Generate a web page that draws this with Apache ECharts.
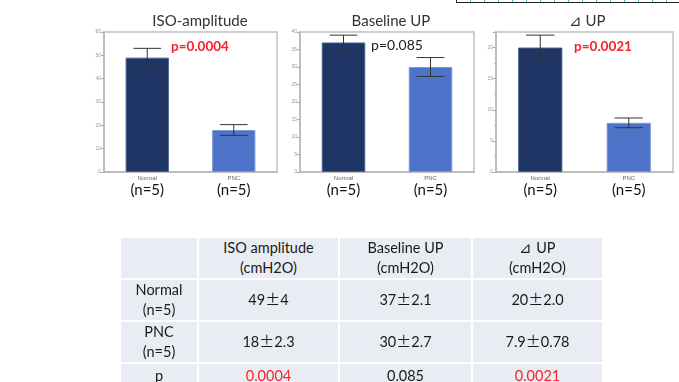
<!DOCTYPE html>
<html>
<head>
<meta charset="utf-8">
<script src="https://cdn.jsdelivr.net/npm/echarts@6/dist/echarts.min.js"></script>
<style>
  html, body { margin: 0; padding: 0; background: #fff; }
  #wrap { position: relative; width: 679px; height: 382px; overflow: hidden; }
  #chart { position: absolute; left: 0; top: 0; width: 679px; height: 382px; }
  #ruler {
    position: absolute; left: 456px; top: -10px; width: 240px; height: 11px;
    border: 1px solid #222;
    background: repeating-linear-gradient(90deg, transparent 0 13px, #35c6d6 13px 14px);
  }
  #tbl {
    position: absolute; left: 119px; top: 236px;
    border-collapse: collapse; table-layout: fixed;
    font-family: Lato, "Noto Sans", sans-serif; font-size: 14.5px; color: #1a1a1a;
  }
  #tbl td {
    background: #e9ecf3; border: 2px solid #fff; text-align: center;
    padding: 0; line-height: 20px; overflow: hidden;
  }
  #tbl td.red { color: #f02828; }
  #tbl .pm { font-family: "Noto Sans CJK JP", sans-serif; font-size: 15px; line-height: 1; }
</style>
</head>
<body>
<div id="wrap">
  <div id="chart"></div>
  <div id="ruler"></div>
  <table id="tbl"></table>
</div>
<script>
// Group means and SDs (cmH2O), n = 5 per group
const groups = ['Normal', 'PNC'];
const groupN = ['(n=5)', '(n=5)'];
const panelTitles = ['ISO-amplitude', 'Baseline UP', '⊿ UP'];
const tableHeads = ['ISO amplitude', 'Baseline UP', '⊿ UP'];
const unitLabel = '(cmH2O)';
const isoMean = [49, 18];
const isoSd = [4, 2.3];
const baseMean = [37, 30];
const baseSd = [2.1, 2.7];
const deltaMean = [20, 7.9];
const deltaSd = [2.0, 0.78];
const meanText = [['49', '37', '20'], ['18', '30', '7.9']];
const sdText = [['4', '2.1', '2.0'], ['2.3', '2.7', '0.78']];
const pValues = ['0.0004', '0.085', '0.0021'];
const pSignificant = [true, false, true];
const yMax = [60, 40, 22.5];
const yStep = [10, 5, 5];

const barColors = ['#1f3566', '#4d74c8'];
const barEdges = ['#4a5e8a', '#7b98d6'];

const panels = [
  { mean: isoMean, sd: isoSd, grid: { left: 104, top: 32, width: 173, height: 140 }, title: 195, p: 195 },
  { mean: baseMean, sd: baseSd, grid: { left: 300, top: 32, width: 174, height: 140 }, title: 386, p: 392 },
  { mean: deltaMean, sd: deltaSd, grid: { left: 496, top: 32, width: 177, height: 140 }, title: 582, p: 598 }
];

const chart = echarts.init(document.getElementById('chart'), null, { renderer: 'canvas' });

const grids = [], xAxes = [], yAxes = [], series = [], titles = [];
panels.forEach((pn, i) => {
  grids.push(Object.assign({ show: true, borderColor: '#cfcfcf', borderWidth: 2, backgroundColor: '#fff' }, pn.grid));
  xAxes.push({
    type: 'category', gridIndex: i, data: groups,
    axisLine: { lineStyle: { color: '#bdbdbd', width: 2 } },
    axisTick: { show: false },
    axisLabel: {
      margin: 2, interval: 0,
      formatter: (v, idx) => '{a|' + v + '}\n{b|' + groupN[idx] + '}',
      rich: {
        a: { fontSize: 6, color: '#666', fontFamily: 'Liberation Sans', lineHeight: 8 },
        b: { fontSize: 15, color: '#111', fontFamily: 'Lato', lineHeight: 17 }
      }
    }
  });
  yAxes.push({
    type: 'value', gridIndex: i, min: 0, max: yMax[i], interval: yStep[i],
    axisLine: { show: true, lineStyle: { color: '#bdbdbd', width: 2 } },
    axisTick: { show: true, length: 3, lineStyle: { color: '#aaa' } },
    minorTick: { show: i === 2, splitNumber: 2, length: 2, lineStyle: { color: '#bbb' } },
    splitLine: { show: false },
    axisLabel: { fontSize: 5, color: '#999', margin: 3, showMaxLabel: i !== 2, fontFamily: 'Liberation Sans' }
  });
  series.push({
    type: 'bar', xAxisIndex: i, yAxisIndex: i, barWidth: '50%',
    data: pn.mean.map((v, k) => ({ value: v, itemStyle: { color: barColors[k], borderColor: barEdges[k], borderWidth: 1 } }))
  });
  series.push({
    type: 'custom', xAxisIndex: i, yAxisIndex: i, z: 5,
    data: pn.mean.map((v, k) => [k, v - pn.sd[k], v + pn.sd[k]]),
    renderItem: (params, api) => {
      const lo = api.coord([api.value(0), api.value(1)]);
      const hi = api.coord([api.value(0), api.value(2)]);
      const cap = api.size([1, 0])[0] * 0.32;
      const st = { stroke: '#333', lineWidth: 1 };
      return {
        type: 'group',
        children: [
          { type: 'line', shape: { x1: lo[0], y1: lo[1], x2: hi[0], y2: hi[1] }, style: st },
          { type: 'line', shape: { x1: hi[0] - cap / 2, y1: hi[1], x2: hi[0] + cap / 2, y2: hi[1] }, style: st },
          { type: 'line', shape: { x1: lo[0] - cap / 2, y1: lo[1], x2: lo[0] + cap / 2, y2: lo[1] }, style: st }
        ]
      };
    }
  });
  titles.push({
    text: panelTitles[i], left: pn.title, top: 9, textAlign: 'center',
    textStyle: { fontSize: 15, fontWeight: 'normal', color: '#333', fontFamily: 'Lato' }
  });
  titles.push({
    text: 'p=' + pValues[i], left: pn.p, top: i === 1 ? 33 : 35, textAlign: 'center',
    textStyle: {
      fontSize: i === 1 ? 14 : 13.5, fontFamily: 'Lato',
      fontWeight: pSignificant[i] ? 'bold' : 'normal',
      color: pSignificant[i] ? '#f2222c' : '#222'
    }
  });
});

chart.setOption({
  animation: false,
  title: titles,
  grid: grids,
  xAxis: xAxes,
  yAxis: yAxes,
  series: series
});

// Summary table built from the same values
const colW = [78, 141, 133, 131];
const rowH = [40, 42, 42, 26];
const tbl = document.getElementById('tbl');
const cg = document.createElement('colgroup');
colW.forEach(w => { const c = document.createElement('col'); c.style.width = w + 'px'; cg.appendChild(c); });
tbl.appendChild(cg);
function addRow(h, cells) {
  const tr = document.createElement('tr');
  tr.style.height = h + 'px';
  cells.forEach(c => {
    const td = document.createElement('td');
    td.innerHTML = c.html;
    if (c.red) td.className = 'red';
    tr.appendChild(td);
  });
  tbl.appendChild(tr);
}
addRow(rowH[0], [{ html: '' }].concat(tableHeads.map(h => ({ html: h + '<br>' + unitLabel }))));
groups.forEach((g, r) => {
  addRow(rowH[r + 1], [{ html: g + '<br>' + groupN[r] }].concat(
    meanText[r].map((m, c) => ({ html: m + '<span class="pm">±</span>' + sdText[r][c] }))));
});
addRow(rowH[3], [{ html: 'p' }].concat(pValues.map((p, c) => ({ html: p, red: pSignificant[c] }))));
</script>
</body>
</html>
